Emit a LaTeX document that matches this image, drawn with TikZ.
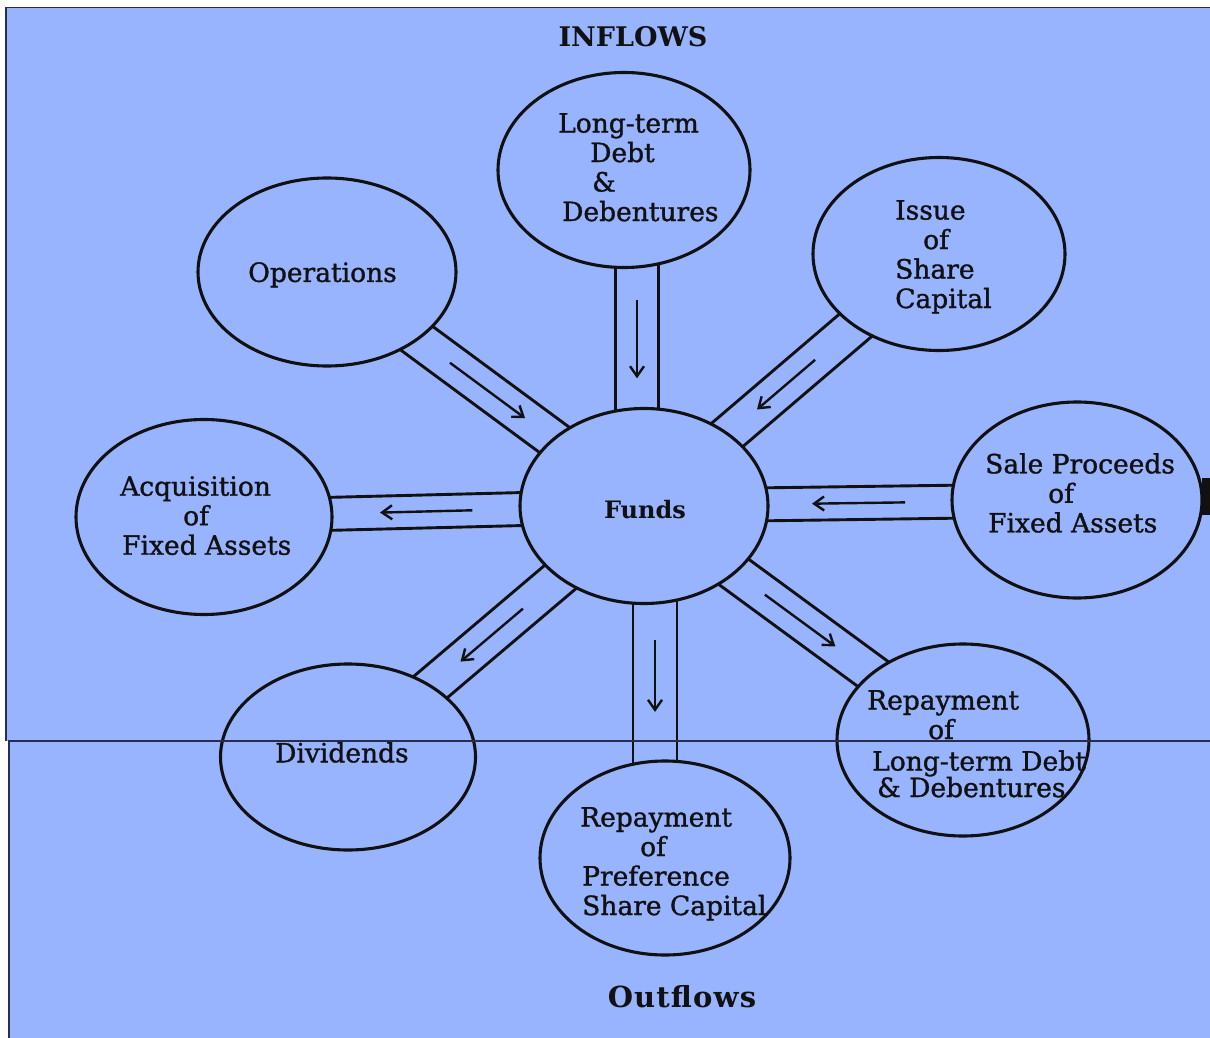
\documentclass[tikz,border=0pt]{standalone}
\usepackage{fontspec}
\setmainfont{DejaVu Serif}
\usetikzlibrary{shapes.geometric,calc,arrows.meta}
\definecolor{bgblue}{RGB}{153,180,255}
\definecolor{ink}{RGB}{17,17,17}
\definecolor{framec}{RGB}{40,45,80}
\pgfdeclarelayer{back}
\pgfdeclarelayer{pipes}
\pgfsetlayers{back,pipes,main}
\newcommand\pipe[5]{%
  \draw[pipeline] ($(#1)!#3!90:(#2)$) -- ($(#2)!#3!-90:(#1)$);
  \draw[pipeline] ($(#1)!#3!-90:(#2)$) -- ($(#2)!#3!90:(#1)$);
  \draw[flow] ($(#1)!#4!(#2)$) -- ($(#1)!#5!(#2)$);}
\begin{document}
\begin{tikzpicture}[x=1pt,y=-1pt,
  bubble/.style={ellipse,draw=ink,line width=3.1pt,fill=bgblue,inner sep=0pt,minimum width=252pt,minimum height=193pt},
  lbl/.style={font=\fontsize{26.5}{29.5}\selectfont\addfontfeature{FakeBold=1.2},text=ink,inner sep=0pt,align=left,anchor=north west},
  pipeline/.style={draw=ink,line width=2.9pt},
  flow/.style={draw=ink,line width=2.4pt,-{Straight Barb[length=10pt,width=14pt]}}]
\useasboundingbox (0,0) rectangle (1210,1038);
\begin{pgfonlayer}{back}
  \fill[white] (0,0) rectangle (1210,1038);
  \fill[bgblue] (6,8) rectangle (1210,741);
  \fill[bgblue] (9,741) rectangle (1210,1038);
  \draw[framec,line width=1.5pt] (6,741) -- (6,7.5) -- (1210,7.5);
  \draw[framec,line width=1.5pt] (9,741) -- (9,1038);
  \fill[ink] (1202,478) rectangle (1210,515);
\end{pgfonlayer}

% bubbles
\node[bubble,minimum width=248pt,minimum height=195pt] (funds) at (644,506) {};
\node[bubble,minimum height=195pt] (ltd) at (624,170) {};
\node[bubble,minimum width=258pt,minimum height=188pt] (ops) at (327,272) {};
\node[bubble] (issue) at (939,254) {};
\node[bubble,minimum width=256pt,minimum height=195pt] (acq) at (204,517) {};
\node[bubble,minimum width=250pt,minimum height=196pt] (sale) at (1077,500) {};
\node[bubble,minimum width=255pt,minimum height=186pt] (div) at (348,757) {};
\node[bubble,minimum width=250pt,minimum height=194pt] (pref) at (665,858) {};
\node[bubble,minimum height=192pt] (rltd) at (963,740) {};

% pipe axis ends for the vertical pipes
\coordinate (ltdp) at ($(ltd)+(13,0)$);
\coordinate (fundsu) at ($(funds)+(-7,0)$);
\coordinate (fundsd) at ($(funds)+(11,0)$);
\coordinate (prefp) at ($(pref)+(-10,0)$);

\begin{pgfonlayer}{pipes}
  \pipe{ltdp}{fundsu}{21.5pt}{0.387}{0.62}
  \pipe{ops}{funds}{19pt}{0.388}{0.625}
  \pipe{issue}{funds}{19pt}{0.42}{0.617}
  \pipe{sale}{funds}{16.5pt}{0.397}{0.612}
  \pipe{funds}{acq}{16.5pt}{0.39}{0.6}
  \pipe{funds}{div}{19pt}{0.409}{0.62}
  \pipe{fundsd}{prefp}{22pt}{0.38}{0.585}
  \pipe{funds}{rltd}{19pt}{0.379}{0.6}
\end{pgfonlayer}

% labels
\node[lbl,anchor=center,font=\bfseries\fontsize{27}{30}\selectfont] (tinflows) at (633,37) {INFLOWS};
\node[lbl] (tltd) at (558,113) {Long-term\\\hspace*{32pt}Debt\\\hspace*{34pt}\&\\\hspace*{4pt}Debentures};
\node[lbl] (tops) at (248,262) {Operations};
\node[lbl] (tissue) at (895,200) {Issue\\\hspace*{28pt}of\\Share\\Capital};
\node[lbl] (tacq) at (120,476) {Acquisition\\\hspace*{63pt}of\\\hspace*{2pt}Fixed Assets};
\node[lbl,anchor=center,font=\bfseries\fontsize{24}{28}\selectfont] (tfunds) at (645,510) {Funds};
\node[lbl] (tsale) at (985,453) {Sale Proceeds\\\hspace*{63pt}of\\\hspace*{3pt}Fixed Assets};
\node[lbl] (trltd) at (867,690) {Repayment\\\hspace*{61pt}of\\[2pt]\hspace*{5pt}Long-term Debt\\[-3pt]\hspace*{10pt}\& Debentures};
\node[lbl] (tdiv) at (275,742) {Dividends};
\node[lbl] (tpref) at (580,807) {Repayment\\\hspace*{60pt}of\\\hspace*{2pt}Preference\\\hspace*{2pt}Share Capital};
\node[lbl,anchor=center,font=\bfseries\fontsize{29}{32}\selectfont] (tout) at (682,997) {\addfontfeature{LetterSpace=4}Outflows};

% scan seam line
\draw[framec,line width=1.2pt] (8,741) -- (1210,741);
\end{tikzpicture}
\end{document}
